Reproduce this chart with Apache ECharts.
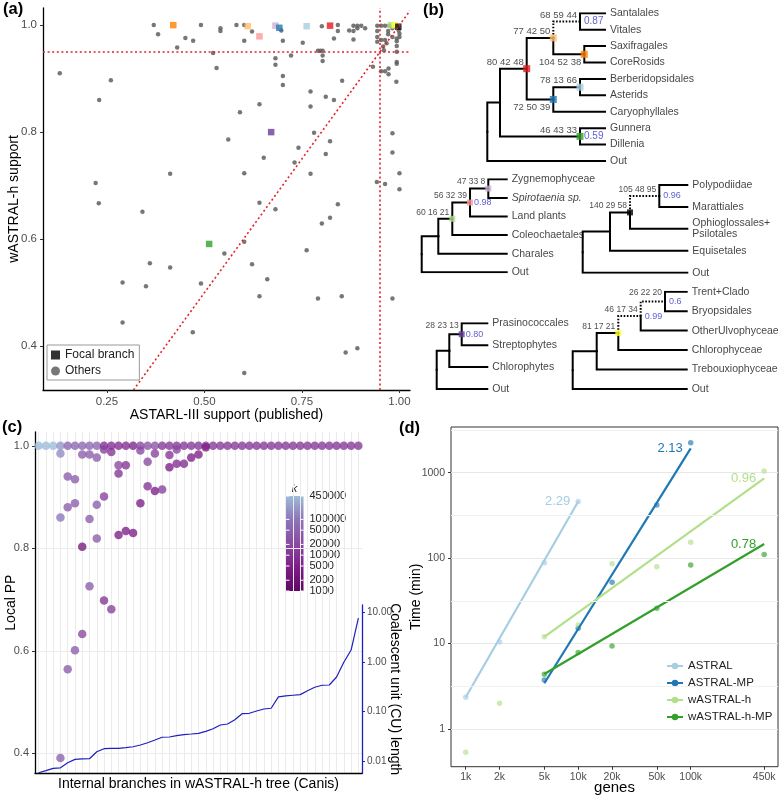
<!DOCTYPE html>
<html>
<head>
<meta charset="utf-8">
<script src="https://cdn.jsdelivr.net/npm/echarts@6/dist/echarts.min.js"></script>
<style>
  html, body { margin: 0; padding: 0; background: #fff; }
  #main { width: 783px; height: 797px; }
</style>
</head>
<body>
<div id="main"></div>
<script>
const myChart = echarts.init(document.getElementById('main'));
const FONT = '"Liberation Sans", Arial, Helvetica, sans-serif';

// ---------- (a) support: ASTRAL-III vs wASTRAL-h ----------
const othersA = [
  [0.370,1.0],[0.381,0.983],[0.430,0.958],[0.451,0.976],[0.471,0.971],[0.491,1.0],[0.522,0.948],[0.531,0.920],[0.541,0.994],[0.541,0.989],
  [0.582,1.0],[0.602,1.0],[0.602,0.971],[0.622,0.988],[0.641,0.852],[0.591,0.837],[0.561,0.786],[0.697,0.990],[0.701,0.971],[0.682,0.938],
  [0.682,0.926],[0.701,0.905],[0.701,0.888],[0.652,0.752],[0.602,0.723],[0.412,0.722],[0.722,0.943],[0.752,0.967],[0.772,0.876],[0.772,0.848],
  [0.741,0.771],[0.731,0.743],[0.772,0.722],[0.781,0.799],[0.791,0.952],[0.797,0.952],[0.803,0.952],[0.803,0.943],[0.803,0.933],[0.801,0.998],
  [0.811,0.866],[0.811,0.759],[0.822,0.783],[0.832,0.860],[0.832,0.975],[0.842,1.0],[0.842,0.989],[0.853,0.896],
  [0.871,0.990],[0.882,0.999],[0.892,0.999],[0.902,0.999],[0.882,0.989],[0.892,0.994],[0.912,0.994],[0.882,0.973],
  [0.943,0.999],[0.953,0.999],[0.963,0.999],[0.974,0.999],[0.943,0.989],[0.943,0.978],[0.943,0.969],[0.953,0.972],[0.963,0.972],
  [0.971,0.989],[0.971,0.983],[0.982,0.994],[0.982,0.978],[0.993,0.975],[0.993,0.970],[0.993,0.961],[1.0,0.984],[0.967,0.966],
  [0.958,0.960],[0.960,0.953],[0.993,0.950],[0.993,0.931],[0.993,0.928],[0.998,0.990],[1.0,0.978],
  [0.953,0.914],[0.963,0.914],[0.972,0.908],[0.972,0.919],[0.932,0.922],[0.992,0.894],[0.982,0.798],[0.982,0.762],[1.0,0.723],
  [1.0,0.693],[0.963,0.703],[0.942,0.707],
  [0.129,0.910],[0.260,0.897],[0.230,0.860],[0.221,0.705],[0.229,0.667],[0.341,0.651],[0.290,0.519],[0.350,0.512],[0.360,0.555],[0.412,0.547],
  [0.290,0.444],[0.470,0.426],[0.491,0.517],[0.551,0.573],[0.602,0.595],[0.622,0.553],[0.641,0.668],[0.661,0.525],[0.641,0.493],[0.682,0.656],
  [0.762,0.579],[0.801,0.629],[0.822,0.640],[0.842,0.665],[0.791,0.489],[0.852,0.493],[0.862,0.388],[0.892,0.396],[0.982,0.489],[0.602,0.350]
];
const focalA = [
  [0.420,1.0],[0.611,0.998],[0.641,0.979],[0.682,0.999],[0.692,0.995],[0.762,0.998],
  [0.822,0.999],[0.671,0.800],[0.512,0.591],[0.978,1.0],[0.988,1.0],[0.997,0.997]
];
const focalColors = ['#ff7f00','#fdbf6f','#fb9a99','#cab2d6','#1f78b4','#a6cee3',
  '#e31a1c','#6a3d9a','#33a02c','#b2df8a','#ffff33','#000000'];
const supportTicksX = [0.25, 0.5, 0.75, 1.0];
const supportTicksY = [0.4, 0.6, 0.8, 1.0];
const supportCut = 0.95;

// ---------- (c) local PP per internal branch, coloured by k ----------
const topK = [450000,450000,450000,200000,60000,60000,60000,60000,60000,8000,8000,8000,8000,6000,20000,30000,30000,
  12000,12000,12000,12000,12000,12000,12000,12000,12000,12000,12000,12000,12000,12000,12000,12000,12000,12000,
  12000,12000,12000,12000,12000,12000,12000,12000,12000,12000];
const lowerPP = [
  [3,0.985,150000],[3,0.860,100000],[3,0.391,50000],
  [4,0.940,40000],[4,0.880,40000],[4,0.564,40000],
  [5,0.935,40000],[5,0.888,40000],[5,0.601,40000],
  [6,0.983,40000],[6,0.803,3000],[6,0.633,20000],
  [7,0.983,40000],[7,0.857,40000],[7,0.726,40000],
  [8,0.977,40000],[8,0.885,40000],[8,0.819,40000],
  [9,0.993,15000],[9,0.901,15000],[9,0.698,10000],
  [10,0.988,10000],[10,0.681,15000],
  [11,0.962,20000],[11,0.946,10000],[11,0.826,5000],
  [12,0.962,10000],[12,0.834,5000],
  [13,0.830,5000],
  [14,0.991,20000],[14,0.888,5000],
  [15,0.969,20000],[15,0.921,10000],
  [16,0.985,15000],[16,0.912,5000],
  [17,0.915,15000],
  [18,0.982,10000],[18,0.958,5000],
  [19,0.993,20000],[19,0.965,8000],
  [20,0.965,8000],
  [21,0.977,5000],
  [22,0.983,5000],
  [23,0.997,5000]
];
const cuLength = [0.0058,0.0064,0.0071,0.0073,0.0092,0.0108,0.0110,0.0111,0.0154,0.0177,0.0180,0.0180,0.0186,0.0194,0.0210,
  0.0234,0.0265,0.0301,0.0305,0.0324,0.0339,0.0350,0.0362,0.0397,0.0448,0.0532,0.0558,0.0681,0.090,0.0917,
  0.102,0.112,0.116,0.196,0.205,0.212,0.218,0.262,0.307,0.337,0.341,0.495,0.98,1.73,7.57];
const ppTicks = [0.4, 0.6, 0.8, 1.0];
const cuTicks = [0.01, 0.1, 1, 10];
const kTicks = [1000, 2000, 5000, 10000, 20000, 50000, 100000, 450000];

// ---------- (d) running time ----------
const methods = ['ASTRAL', 'ASTRAL-MP', 'wASTRAL-h', 'wASTRAL-h-MP'];
const timeGenes = [
  [1000, 2000, 5000, 10000],
  [5000, 10000, 20000, 50000, 100000],
  [1000, 2000, 5000, 10000, 20000, 50000, 100000, 450000],
  [5000, 10000, 20000, 50000, 100000, 450000]
];
const timeMinutes = [
  [2.35, 10.4, 88, 460],
  [3.74, 15.1, 52, 417, 2230],
  [0.534, 2.0, 12.0, 16.5, 86, 79, 153, 1042],
  [4.36, 7.88, 9.36, 25.8, 83, 110]
];
const fitEnds = [
  [[1000, 2.35], [10000, 460]],
  [[5000, 3.43], [100000, 1920]],
  [[5000, 12], [450000, 855]],
  [[5000, 4.4], [450000, 146]]
];
const fitSlopes = ['2.29', '2.13', '0.96', '0.78'];
const geneTicks = [1000, 2000, 5000, 10000, 20000, 50000, 100000, 450000];
const timeTicks = [1, 10, 100, 1000];
const methodColors = ['#a6cee3', '#1f78b4', '#b2df8a', '#33a02c'];

// ---------- (b) trees: node depth, focal colour, support text ----------
const L = (name, extra) => Object.assign({ name }, extra);
const N = (d, kids, extra) => Object.assign({ d, kids }, extra);

const treeEudicots = { tip: 117.7, root: N(0, [
  N(12.7, [
    N(39.4, [
      N(66, [
        N(92.7, [L('Santalales'), L('Vitales')], { sup: '68 59 44', pp: '0.87', dash: true }),
        N(97, [L('Saxifragales'), L('CoreRosids')], { col: '#ff7f00', sup: '104 52 38', below: true })
      ], { col: '#fdbf6f', sup: '77 42 50' }),
      N(66, [
        N(92.7, [L('Berberidopsidales'), L('Asterids')], { col: '#a6cee3', sup: '78 13 66' }),
        L('Caryophyllales')
      ], { col: '#1f78b4', sup: '72 50 39', below: true })
    ], { col: '#e31a1c', sup: '80 42 48' }),
    N(92.7, [L('Gunnera'), L('Dillenia')], { col: '#33a02c', sup: '46 43 33', pp: '0.59' })
  ]),
  L('Out')
]) };

const treeZygnema = { tip: 85, root: N(0, [
  N(16.6, [
    N(30.6, [
      N(48.3, [
        N(66.6, [L('Zygnemophyceae'), L('Spirotaenia sp.', { italic: true })], { col: '#cab2d6', sup: '47 33 8' }),
        L('Land plants')
      ], { col: '#fb9a99', sup: '56 32 39', pp: '0.98' }),
      L('Coleochaetales')
    ], { col: '#b2df8a', sup: '60 16 21' }),
    L('Charales')
  ]),
  L('Out')
]) };

const treeFerns = { tip: 104.6, root: N(0, [
  N(27.3, [
    N(47.3, [
      N(76.6, [L('Polypodiidae'), L('Marattiales')], { sup: '105 48 95', pp: '0.96', dash: true }),
      L('Ophioglossales+\nPsilotales')
    ], { col: '#000000', sup: '140 29 58' }),
    L('Equisetales')
  ]),
  L('Out')
]) };

const treeGreen = { tip: 50.6, root: N(0, [
  N(12.6, [
    N(25, [L('Prasinococcales'), L('Streptophytes')], { col: '#6a3d9a', sup: '28 23 13', pp: '0.80', supDy: -9 }),
    L('Chlorophytes')
  ]),
  L('Out')
]) };

const treeUlvo = { tip: 114, root: N(0, [
  N(24, [
    N(45.6, [
      N(68, [
        N(92.3, [L('Trent+Clado'), L('Bryopsidales')], { sup: '26 22 20', pp: '0.6', dash: true, supDy: -9 }),
        L('OtherUlvophyceae')
      ], { sup: '46 17 34', pp: '0.99', dash: true }),
      L('Chlorophyceae')
    ], { col: '#ffff33', sup: '81 17 21' }),
    L('Trebouxiophyceae')
  ]),
  L('Out')
]) };

const treeBoxes = [
  { tree: treeEudicots, left: 487.3, top: 13.3, height: 147.7, supSize: 9.5, ppSize: 10 },
  { tree: treeZygnema, left: 421.7, top: 179.3, height: 93, supSize: 8.5, ppSize: 9 },
  { tree: treeFerns, left: 582.7, top: 185, height: 87.7, supSize: 8.5, ppSize: 9 },
  { tree: treeGreen, left: 436.7, top: 323.3, height: 65.7, supSize: 8.5, ppSize: 9 },
  { tree: treeUlvo, left: 572.7, top: 291.7, height: 97.3, supSize: 8.5, ppSize: 9 }
];

// ---------- helpers ----------
const tickAxisLabel = (vals, fmt, extra) => Object.assign({
  customValues: vals, formatter: fmt, color: '#4d4d4d', fontSize: 11.5, margin: 6
}, extra);
const tickAxisTick = (vals, color) => ({
  customValues: vals, length: 3, lineStyle: { color: color || '#333', width: 1 }
});
const blackLine = { show: true, onZero: false, lineStyle: { color: '#000', width: 1.3 } };
const axisName = { fontSize: 14, color: '#000' };

const grids = [];
const xAxes = [];
const yAxes = [];
const series = [];

// (a)
grids.push({ left: 43, top: 8, width: 367, height: 382, outerBoundsMode: 'none' });
xAxes.push({
  gridIndex: 0, type: 'value', min: 0.086, max: 1.027,
  axisLine: blackLine, axisTick: tickAxisTick(supportTicksX),
  axisLabel: tickAxisLabel(supportTicksX, v => v.toFixed(2), { margin: 6 }),
  splitLine: { show: false },
  name: 'ASTARL-III support (published)', nameLocation: 'middle', nameGap: 18, nameMoveOverlap: false, nameTextStyle: axisName
});
yAxes.push({
  gridIndex: 0, type: 'value', min: 0.318, max: 1.032,
  axisLine: blackLine, axisTick: tickAxisTick(supportTicksY),
  axisLabel: tickAxisLabel(supportTicksY, v => v.toFixed(1)),
  splitLine: { show: false },
  name: 'wASTRAL-h support', nameLocation: 'middle', nameGap: 22, nameMoveOverlap: false, nameTextStyle: axisName
});
series.push({
  type: 'scatter', name: 'Others', xAxisIndex: 0, yAxisIndex: 0,
  data: othersA, symbolSize: 4.5,
  itemStyle: { color: '#5f5f5f', opacity: 0.85 },
  markLine: {
    silent: true, symbol: 'none', animation: false,
    label: { show: false },
    lineStyle: { color: '#e0242a', type: [2, 2.6], width: 1.6 },
    data: [
      { yAxis: supportCut },
      { xAxis: supportCut },
      [{ coord: [0.318, 0.318] }, { coord: [1.027, 1.027] }]
    ]
  }
});
series.push({
  type: 'scatter', name: 'Focal branch', xAxisIndex: 0, yAxisIndex: 0, z: 4,
  symbol: 'rect', symbolSize: 6.5, itemStyle: { color: '#000' },
  data: focalA.map((p, i) => ({ value: p, itemStyle: { color: focalColors[i] } }))
});

// (c) main
grids.push({ left: 35, top: 432, width: 327, height: 341.3, outerBoundsMode: 'none' });
const branchIdx = topK.map((_, i) => i);
xAxes.push({
  gridIndex: 1, type: 'value', min: -0.5, max: topK.length - 0.5,
  axisLine: blackLine, axisTick: { show: false, customValues: branchIdx },
  axisLabel: { show: false },
  splitLine: { show: true, lineStyle: { color: '#ebebeb', width: 1 } },
  name: 'Internal branches in wASTRAL-h tree (Canis)', nameLocation: 'middle', nameGap: 4, nameMoveOverlap: false, nameTextStyle: axisName
});
yAxes.push({
  gridIndex: 1, type: 'value', min: 0.361, max: 1.027,
  axisLine: blackLine, axisTick: tickAxisTick(ppTicks),
  axisLabel: tickAxisLabel(ppTicks, v => v.toFixed(1), { fontSize: 11 }),
  splitLine: { show: true, lineStyle: { color: '#ebebeb', width: 1 } },
  name: 'Local PP', nameLocation: 'middle', nameGap: 17, nameMoveOverlap: false, nameTextStyle: axisName
});
// (c) CU overlay
grids.push({ left: 35, top: 605, width: 327, height: 168.3, outerBoundsMode: 'none' });
xAxes.push({ gridIndex: 2, type: 'value', min: -0.5, max: topK.length - 0.5, show: false });
yAxes.push({
  gridIndex: 2, type: 'log', position: 'right', min: 0.00565, max: 14,
  axisLine: { show: true, onZero: false, lineStyle: { color: '#1f1fbf', width: 1.3 } },
  axisTick: tickAxisTick(cuTicks, '#1f1fbf'),
  axisLabel: tickAxisLabel(cuTicks, v => v.toFixed(2), { fontSize: 10, margin: 5 }),
  splitLine: { show: false },
  name: 'Coalescent unit (CU) length', nameLocation: 'middle', nameRotate: -90, nameGap: 26, nameMoveOverlap: false, nameTextStyle: axisName
});
const ppData = topK.map((k, i) => [i, 1.0, Math.log10(k)])
  .concat(lowerPP.map(p => [p[0], p[1], Math.log10(p[2])]));
const ppSeriesIndex = series.length;
series.push({
  type: 'scatter', xAxisIndex: 1, yAxisIndex: 1, data: ppData,
  symbolSize: 8.5, itemStyle: { opacity: 0.78 }, z: 3
});
series.push({
  type: 'line', xAxisIndex: 2, yAxisIndex: 2,
  data: cuLength.map((v, i) => [i, v]), showSymbol: false,
  lineStyle: { color: '#1f1fbf', width: 1.2 }, z: 2
});

// (d)
grids.push({ left: 451, top: 427, width: 327, height: 339.7, show: true, borderColor: '#333', borderWidth: 1, outerBoundsMode: 'none' });
xAxes.push({
  gridIndex: 3, type: 'log', min: 740, max: 597000,
  axisLine: { show: false, onZero: false }, axisTick: tickAxisTick(geneTicks),
  axisLabel: tickAxisLabel(geneTicks, v => (v / 1000) + 'k', { fontSize: 10.5, margin: 5 }),
  splitLine: { show: false },
  name: 'genes', nameLocation: 'middle', nameGap: 14, nameMoveOverlap: false, nameTextStyle: { fontSize: 15, color: '#000' }
});
yAxes.push({
  gridIndex: 3, type: 'log', min: 0.362, max: 3420,
  axisLine: { show: false, onZero: false }, axisTick: tickAxisTick(timeTicks),
  axisLabel: tickAxisLabel(timeTicks, v => String(v), { fontSize: 10.5, margin: 6 }),
  splitLine: { show: true, lineStyle: { color: '#e8e8e8', width: 1 } },
  name: 'Time (min)', nameLocation: 'middle', nameGap: 28, nameMoveOverlap: false, nameTextStyle: axisName
});
methods.forEach((m, i) => {
  const s = {
    type: 'scatter', name: m + ' pts', xAxisIndex: 3, yAxisIndex: 3,
    data: timeGenes[i].map((g, j) => [g, timeMinutes[i][j]]),
    symbolSize: 5.5, itemStyle: { color: methodColors[i], opacity: 0.65 }
  };
  if (i === 0) {
    s.markLine = {
      silent: true, symbol: 'none', label: { show: false },
      lineStyle: { color: '#f1f1f1', type: 'solid', width: 1 },
      data: timeTicks.map(t => ({ yAxis: t * Math.sqrt(10) }))
    };
  }
  series.push(s);
});
methods.forEach((m, i) => {
  series.push({
    type: 'line', name: m, xAxisIndex: 3, yAxisIndex: 3, z: 3,
    symbol: 'circle', symbolSize: 0, showSymbol: true,
    lineStyle: { color: methodColors[i], width: 2.2 }, itemStyle: { color: methodColors[i] },
    data: [
      { value: fitEnds[i][0] },
      { value: fitEnds[i][1], label: { show: true, position: 'left', distance: 8, formatter: fitSlopes[i], color: methodColors[i], fontSize: 13 } }
    ]
  });
});

// (b) trees
treeBoxes.forEach((box, b) => {
  const gi = grids.length;
  const t = box.tree;
  let leaf = 0;
  const solid = [], dotted = [], nodes = [];
  (function walk(n) {
    if (!n.kids) { n.x = t.tip; n.y = leaf++; nodes.push(n); return; }
    n.kids.forEach(walk);
    n.x = n.d;
    n.y = (n.kids[0].y + n.kids[n.kids.length - 1].y) / 2;
    n.kids.forEach(c => (c.dash ? dotted : solid).push({ coords: [[n.x, n.y], [n.x, c.y], [c.x, c.y]] }));
    nodes.push(n);
  })(t.root);

  grids.push({ left: box.left, top: box.top, width: t.tip, height: box.height, outerBoundsMode: 'none' });
  xAxes.push({ gridIndex: gi, type: 'value', min: 0, max: t.tip, show: false });
  yAxes.push({ gridIndex: gi, type: 'value', min: 0, max: leaf - 1, inverse: true, show: false });

  const lineBase = { type: 'lines', coordinateSystem: 'cartesian2d', xAxisIndex: gi, yAxisIndex: gi, polyline: true, silent: true };
  series.push(Object.assign({}, lineBase, {
    data: solid, lineStyle: { color: '#000', width: 2, opacity: 1, join: 'miter', cap: 'square' }
  }));
  series.push(Object.assign({}, lineBase, {
    data: dotted, lineStyle: { color: '#000', width: 2, opacity: 1, type: [1.6, 1.6] }
  }));
  series.push({
    type: 'scatter', xAxisIndex: gi, yAxisIndex: gi, symbol: 'rect', symbolSize: b === 0 ? 7 : 6, z: 4, silent: true,
    data: nodes.filter(n => n.col).map(n => ({ value: [n.x, n.y], itemStyle: { color: n.col } }))
  });
  const texts = [];
  nodes.forEach(n => {
    if (!n.kids) {
      texts.push({ name: n.name, value: [n.x, n.y], label: { position: 'right', distance: 5, fontSize: 10.5, color: '#111', fontStyle: n.italic ? 'italic' : 'normal' } });
    }
    if (n.sup) {
      const dy = n.supDy != null ? n.supDy : (n.below ? 8 : -6.5);
      texts.push({ name: n.sup, value: [n.x, n.y], label: { position: 'left', distance: 3, offset: [0, dy], fontSize: box.supSize, color: '#222' } });
    }
    if (n.pp) {
      texts.push({ name: n.pp, value: [n.x, n.y], label: { position: 'right', distance: 4, fontSize: box.ppSize, color: '#3535c8' } });
    }
  });
  series.push({
    type: 'scatter', xAxisIndex: gi, yAxisIndex: gi, symbolSize: 0, z: 5, silent: true, clip: false,
    label: { show: true, formatter: '{b}' }, data: texts
  });
});

// colour bar for k (log positions), drawn as a gradient with tick labels
const kColors = ['#5e0a62', '#7d1d87', '#8a4aa2', '#8c75b8', '#9ebcda'];
const barTop = 496, barH = 95, barLeft = 286, barW = 17.5;
const kMaxLog = Math.log10(kTicks[kTicks.length - 1]), kMinLog = Math.log10(kTicks[0]);
const kGraphics = [
  { type: 'text', left: barLeft + barW / 2 - 3, top: barTop - 13, style: { text: 'k', fontSize: 11, fontStyle: 'italic', fill: '#222', fontFamily: FONT } },
  {
    type: 'rect', shape: { x: barLeft, y: barTop, width: barW, height: barH },
    style: { fill: new echarts.graphic.LinearGradient(0, 1, 0, 0, kColors.map((c, i) => ({ offset: i / (kColors.length - 1), color: c }))) }
  }
];
kTicks.forEach(k => {
  const y = barTop + (kMaxLog - Math.log10(k)) / (kMaxLog - kMinLog) * barH;
  kGraphics.push({ type: 'text', x: barLeft + barW + 6, y: y, style: { text: String(k), fontSize: 11, fill: '#222', fontFamily: FONT, textVerticalAlign: 'middle' } });
  kGraphics.push({ type: 'line', shape: { x1: barLeft, y1: y, x2: barLeft + 3.5, y2: y }, style: { stroke: '#fff', lineWidth: 1 }, z: 100 });
  kGraphics.push({ type: 'line', shape: { x1: barLeft + barW - 3.5, y1: y, x2: barLeft + barW, y2: y }, style: { stroke: '#fff', lineWidth: 1 }, z: 100 });
});

const panelLabel = (txt, x, y) => ({ type: 'text', left: x, top: y, style: { text: txt, fontSize: 16.5, fontWeight: 'bold', fill: '#000', fontFamily: FONT } });

option = {
  animation: false,
  backgroundColor: '#fff',
  textStyle: { fontFamily: FONT },
  grid: grids,
  xAxis: xAxes,
  yAxis: yAxes,
  legend: [
    {
      left: 47, top: 345, orient: 'vertical',
      data: [{ name: 'Focal branch', icon: 'rect' }, { name: 'Others', icon: 'circle' }],
      itemWidth: 9, itemHeight: 9, itemGap: 4, padding: [4, 5, 3, 4],
      borderColor: '#999', borderWidth: 1,
      textStyle: { fontSize: 12, color: '#222' }, selectedMode: false
    },
    {
      left: 661, top: 655, orient: 'vertical', data: methods,
      itemWidth: 16, itemHeight: 8, itemGap: 5,
      textStyle: { fontSize: 11.5, color: '#222' }, selectedMode: false
    }
  ],
  visualMap: {
    type: 'continuous', show: false, seriesIndex: ppSeriesIndex, dimension: 2,
    min: kMinLog, max: kMaxLog,
    inRange: { color: kColors }
  },
  graphic: [
    panelLabel('(a)', 3, 1),
    panelLabel('(b)', 423, 2),
    panelLabel('(c)', 2, 419),
    panelLabel('(d)', 399, 420)
  ].concat(kGraphics),
  series: series
};

myChart.setOption(option);
</script>
</body>
</html>
